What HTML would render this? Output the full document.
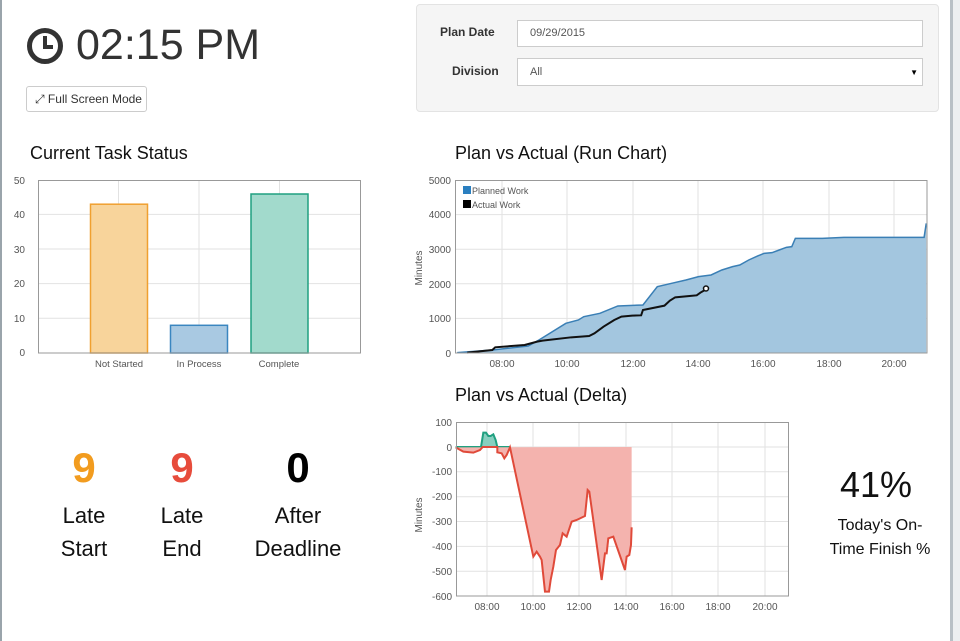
<!DOCTYPE html>
<html><head><meta charset="utf-8"><style>
body{margin:0;width:960px;height:641px;overflow:hidden;background:#fff;font-family:"Liberation Sans",sans-serif;position:relative;color:#333}
.abs{position:absolute}
</style></head><body>
<div class="abs" style="left:0;top:0;width:2px;height:641px;background:#9aa4ab"></div>
<div class="abs" style="left:950px;top:0;width:10px;height:641px;background:#eceff1;border-left:3px solid #b8c0c6;box-sizing:border-box"></div>

<svg class="abs" style="left:26px;top:27px" width="38" height="38" viewBox="0 0 38 38"><circle cx="19" cy="19" r="15.5" fill="none" stroke="#333" stroke-width="5"/><path d="M19 9 V20 H27" fill="none" stroke="#333" stroke-width="4"/></svg>
<div class="abs" style="left:76px;top:20px;font-size:43px;color:#333;line-height:50px">02:15 PM</div>
<div class="abs" style="left:26px;top:86px;width:121px;height:26px;border:1px solid #ccc;border-radius:3px;font-size:12px;line-height:25px;color:#333;box-sizing:border-box;padding-left:8px">⤢ Full Screen Mode</div>

<div class="abs" style="left:416px;top:4px;width:523px;height:108px;background:#f5f5f5;border:1px solid #e3e3e3;border-radius:4px;box-sizing:border-box"></div>
<div class="abs" style="left:440px;top:25px;font-size:12px;font-weight:bold">Plan Date</div>
<div class="abs" style="left:452px;top:64px;font-size:12px;font-weight:bold">Division</div>
<div class="abs" style="left:517px;top:20px;width:406px;height:27px;background:#fff;border:1px solid #ccc;box-sizing:border-box;font-size:11px;color:#555;line-height:25px;padding-left:12px">09/29/2015</div>
<div class="abs" style="left:517px;top:58px;width:406px;height:28px;background:#fff;border:1px solid #ccc;box-sizing:border-box;font-size:11px;color:#555;line-height:27px;padding-left:12px">All<span style="position:absolute;right:4px;font-size:8px;color:#000">▼</span></div>

<div class="abs" style="left:30px;top:143px;font-size:18px;color:#111">Current Task Status</div>
<div class="abs" style="left:455px;top:143px;font-size:18px;color:#111">Plan vs Actual (Run Chart)</div>
<div class="abs" style="left:455px;top:385px;font-size:18px;color:#111">Plan vs Actual (Delta)</div>

<svg class="abs" style="left:0;top:0" width="960" height="641" font-family="Liberation Sans, sans-serif" font-size="10" fill="#555">
<!-- bar chart -->
<g stroke="#e2e2e2" stroke-width="1">
<line x1="38" x2="360" y1="214.4" y2="214.4"/><line x1="38" x2="360" y1="249" y2="249"/><line x1="38" x2="360" y1="283.6" y2="283.6"/><line x1="38" x2="360" y1="318.2" y2="318.2"/>
<line x1="118.5" x2="118.5" y1="180" y2="353"/><line x1="199" x2="199" y1="180" y2="353"/><line x1="279.5" x2="279.5" y1="180" y2="353"/>
</g>
<rect x="90.5" y="204.2" width="57" height="148.8" fill="#f8d49b" stroke="#f0a030" stroke-width="1.5"/>
<rect x="170.5" y="325.3" width="57" height="27.7" fill="#a9c9e2" stroke="#3a86c0" stroke-width="1.5"/>
<rect x="251" y="194" width="57" height="159" fill="#a2dacc" stroke="#20a080" stroke-width="1.5"/>
<rect x="38.5" y="180.5" width="322" height="172.5" fill="none" stroke="#999"/>
<g text-anchor="end"><text x="25" y="184">50</text><text x="25" y="218">40</text><text x="25" y="253">30</text><text x="25" y="287">20</text><text x="25" y="322">10</text><text x="25" y="356">0</text></g>
<g text-anchor="middle" font-size="9.5"><text x="119" y="367">Not Started</text><text x="199" y="367">In Process</text><text x="279" y="367">Complete</text></g>

<!-- run chart -->
<g stroke="#e2e2e2"><line x1="455" x2="927" y1="214.6" y2="214.6"/><line x1="455" x2="927" y1="249.2" y2="249.2"/><line x1="455" x2="927" y1="283.8" y2="283.8"/><line x1="455" x2="927" y1="318.4" y2="318.4"/>
<line x1="502" x2="502" y1="180" y2="353"/><line x1="567" x2="567" y1="180" y2="353"/><line x1="633" x2="633" y1="180" y2="353"/><line x1="698" x2="698" y1="180" y2="353"/><line x1="763" x2="763" y1="180" y2="353"/><line x1="829" x2="829" y1="180" y2="353"/><line x1="894" x2="894" y1="180" y2="353"/></g>
<g transform="translate(399.1,170) scale(0.3586,0.3333)">
<path d="M162,548 L260,540 L360,528 L390,510 L465,460 L500,450 L515,440 L560,430 L610,408 L680,405 L720,350 L760,340 L800,330 L835,320 L870,315 L900,300 L930,290 L950,285 L975,270 L1000,258 L1018,250 L1040,248 L1060,240 L1080,232 L1095,230 L1105,205 L1180,205 L1240,202 L1464,202 L1470,160 L1470,548 Z" fill="#a3c6df" stroke="none"/>
<path d="M162,548 L260,540 L360,528 L390,510 L465,460 L500,450 L515,440 L560,430 L610,408 L680,405 L720,350 L760,340 L800,330 L835,320 L870,315 L900,300 L930,290 L950,285 L975,270 L1000,258 L1018,250 L1040,248 L1060,240 L1080,232 L1095,230 L1105,205 L1180,205 L1240,202 L1464,202 L1470,160" fill="none" stroke="#3a7fb5" stroke-width="1.5" vector-effect="non-scaling-stroke"/>
<path d="M190,548 L260,540 L268,532 L350,525 L385,515 L400,512 L480,502 L530,498 L545,490 L570,470 L600,450 L620,440 L650,437 L675,436 L680,420 L740,407 L755,392 L770,382 L810,378 L830,376 L840,368 L850,362 L855,355" fill="none" stroke="#111" stroke-width="2" vector-effect="non-scaling-stroke"/>
</g>
<circle cx="706" cy="288.5" r="2.5" fill="#fff" stroke="#111" stroke-width="1.5"/>
<rect x="455.5" y="180.5" width="471.5" height="172.5" fill="none" stroke="#999"/>
<rect x="463" y="186" width="8" height="8" fill="#2a7fc0"/><text x="472" y="194" font-size="9">Planned Work</text>
<rect x="463" y="200" width="8" height="8" fill="#000"/><text x="472" y="208" font-size="9">Actual Work</text>
<g text-anchor="end"><text x="451" y="184">5000</text><text x="451" y="218">4000</text><text x="451" y="253">3000</text><text x="451" y="288">2000</text><text x="451" y="322">1000</text><text x="451" y="357">0</text></g>
<g text-anchor="middle"><text x="502" y="367">08:00</text><text x="567" y="367">10:00</text><text x="633" y="367">12:00</text><text x="698" y="367">14:00</text><text x="763" y="367">16:00</text><text x="829" y="367">18:00</text><text x="894" y="367">20:00</text></g>
<text transform="translate(422,268) rotate(-90)" text-anchor="middle">Minutes</text>

<!-- delta chart -->
<g stroke="#e2e2e2"><line x1="456" x2="789" y1="447" y2="447"/><line x1="456" x2="789" y1="471.8" y2="471.8"/><line x1="456" x2="789" y1="496.7" y2="496.7"/><line x1="456" x2="789" y1="521.5" y2="521.5"/><line x1="456" x2="789" y1="546.4" y2="546.4"/><line x1="456" x2="789" y1="571.2" y2="571.2"/>
<line x1="487" x2="487" y1="422" y2="596"/><line x1="533" x2="533" y1="422" y2="596"/><line x1="579" x2="579" y1="422" y2="596"/><line x1="626" x2="626" y1="422" y2="596"/><line x1="672" x2="672" y1="422" y2="596"/><line x1="718" x2="718" y1="422" y2="596"/><line x1="765" x2="765" y1="422" y2="596"/></g>
<g transform="translate(400,410) scale(0.3333)">
<path d="M243,111 L250,68 L258,68 L265,78 L272,78 L280,73 L287,90 L292,111 Z" fill="#88cfbf"/>
<path d="M167,111 L243,111 L250,68 L258,68 L265,78 L272,78 L280,73 L287,90 L292,111 L330,111" fill="none" stroke="#20a080" stroke-width="2" vector-effect="non-scaling-stroke"/>
<path d="M167,112 L190,125 L220,128 L240,120 L248,111 L292,111 L292,127 L305,130 L313,145 L320,135 L330,112 L400,440 L410,425 L420,440 L425,450 L435,545 L447,545 L452,510 L460,470 L468,420 L480,405 L488,370 L500,380 L515,335 L530,330 L555,318 L563,240 L568,245 L605,510 L615,430 L620,430 L625,385 L640,380 L675,480 L680,440 L688,435 L693,405 L695,352 L695,111 Z" fill="#f4b3ae"/>
<path d="M167,112 L190,125 L220,128 L240,120 L248,111 L292,111 L292,127 L305,130 L313,145 L320,135 L330,112 L400,440 L410,425 L420,440 L425,450 L435,545 L447,545 L452,510 L460,470 L468,420 L480,405 L488,370 L500,380 L515,335 L530,330 L555,318 L563,240 L568,245 L605,510 L615,430 L620,430 L625,385 L640,380 L675,480 L680,440 L688,435 L693,405 L695,352" fill="none" stroke="#e04a3a" stroke-width="2" vector-effect="non-scaling-stroke"/>
</g>
<rect x="456.5" y="422.5" width="332" height="173.5" fill="none" stroke="#999"/>
<g text-anchor="end"><text x="452" y="426">100</text><text x="452" y="451">0</text><text x="452" y="475">-100</text><text x="452" y="500">-200</text><text x="452" y="525">-300</text><text x="452" y="550">-400</text><text x="452" y="575">-500</text><text x="452" y="600">-600</text></g>
<g text-anchor="middle"><text x="487" y="610">08:00</text><text x="533" y="610">10:00</text><text x="579" y="610">12:00</text><text x="626" y="610">14:00</text><text x="672" y="610">16:00</text><text x="718" y="610">18:00</text><text x="765" y="610">20:00</text></g>
<text transform="translate(422,515) rotate(-90)" text-anchor="middle">Minutes</text>

<!-- KPIs -->
<g text-anchor="middle" font-size="22" fill="#111">
<text x="84" y="482" font-size="42" font-weight="bold" fill="#f29c1f">9</text>
<text x="182" y="482" font-size="42" font-weight="bold" fill="#e74c3c">9</text>
<text x="298" y="482" font-size="42" font-weight="bold" fill="#000">0</text>
<text x="84" y="523">Late</text><text x="84" y="556">Start</text>
<text x="182" y="523">Late</text><text x="182" y="556">End</text>
<text x="298" y="523">After</text><text x="298" y="556">Deadline</text>
<text x="876" y="497" font-size="36">41%</text>
<text x="880" y="530" font-size="16">Today's On-</text>
<text x="880" y="554" font-size="16">Time Finish %</text>
</g>
</svg>
</body></html>
